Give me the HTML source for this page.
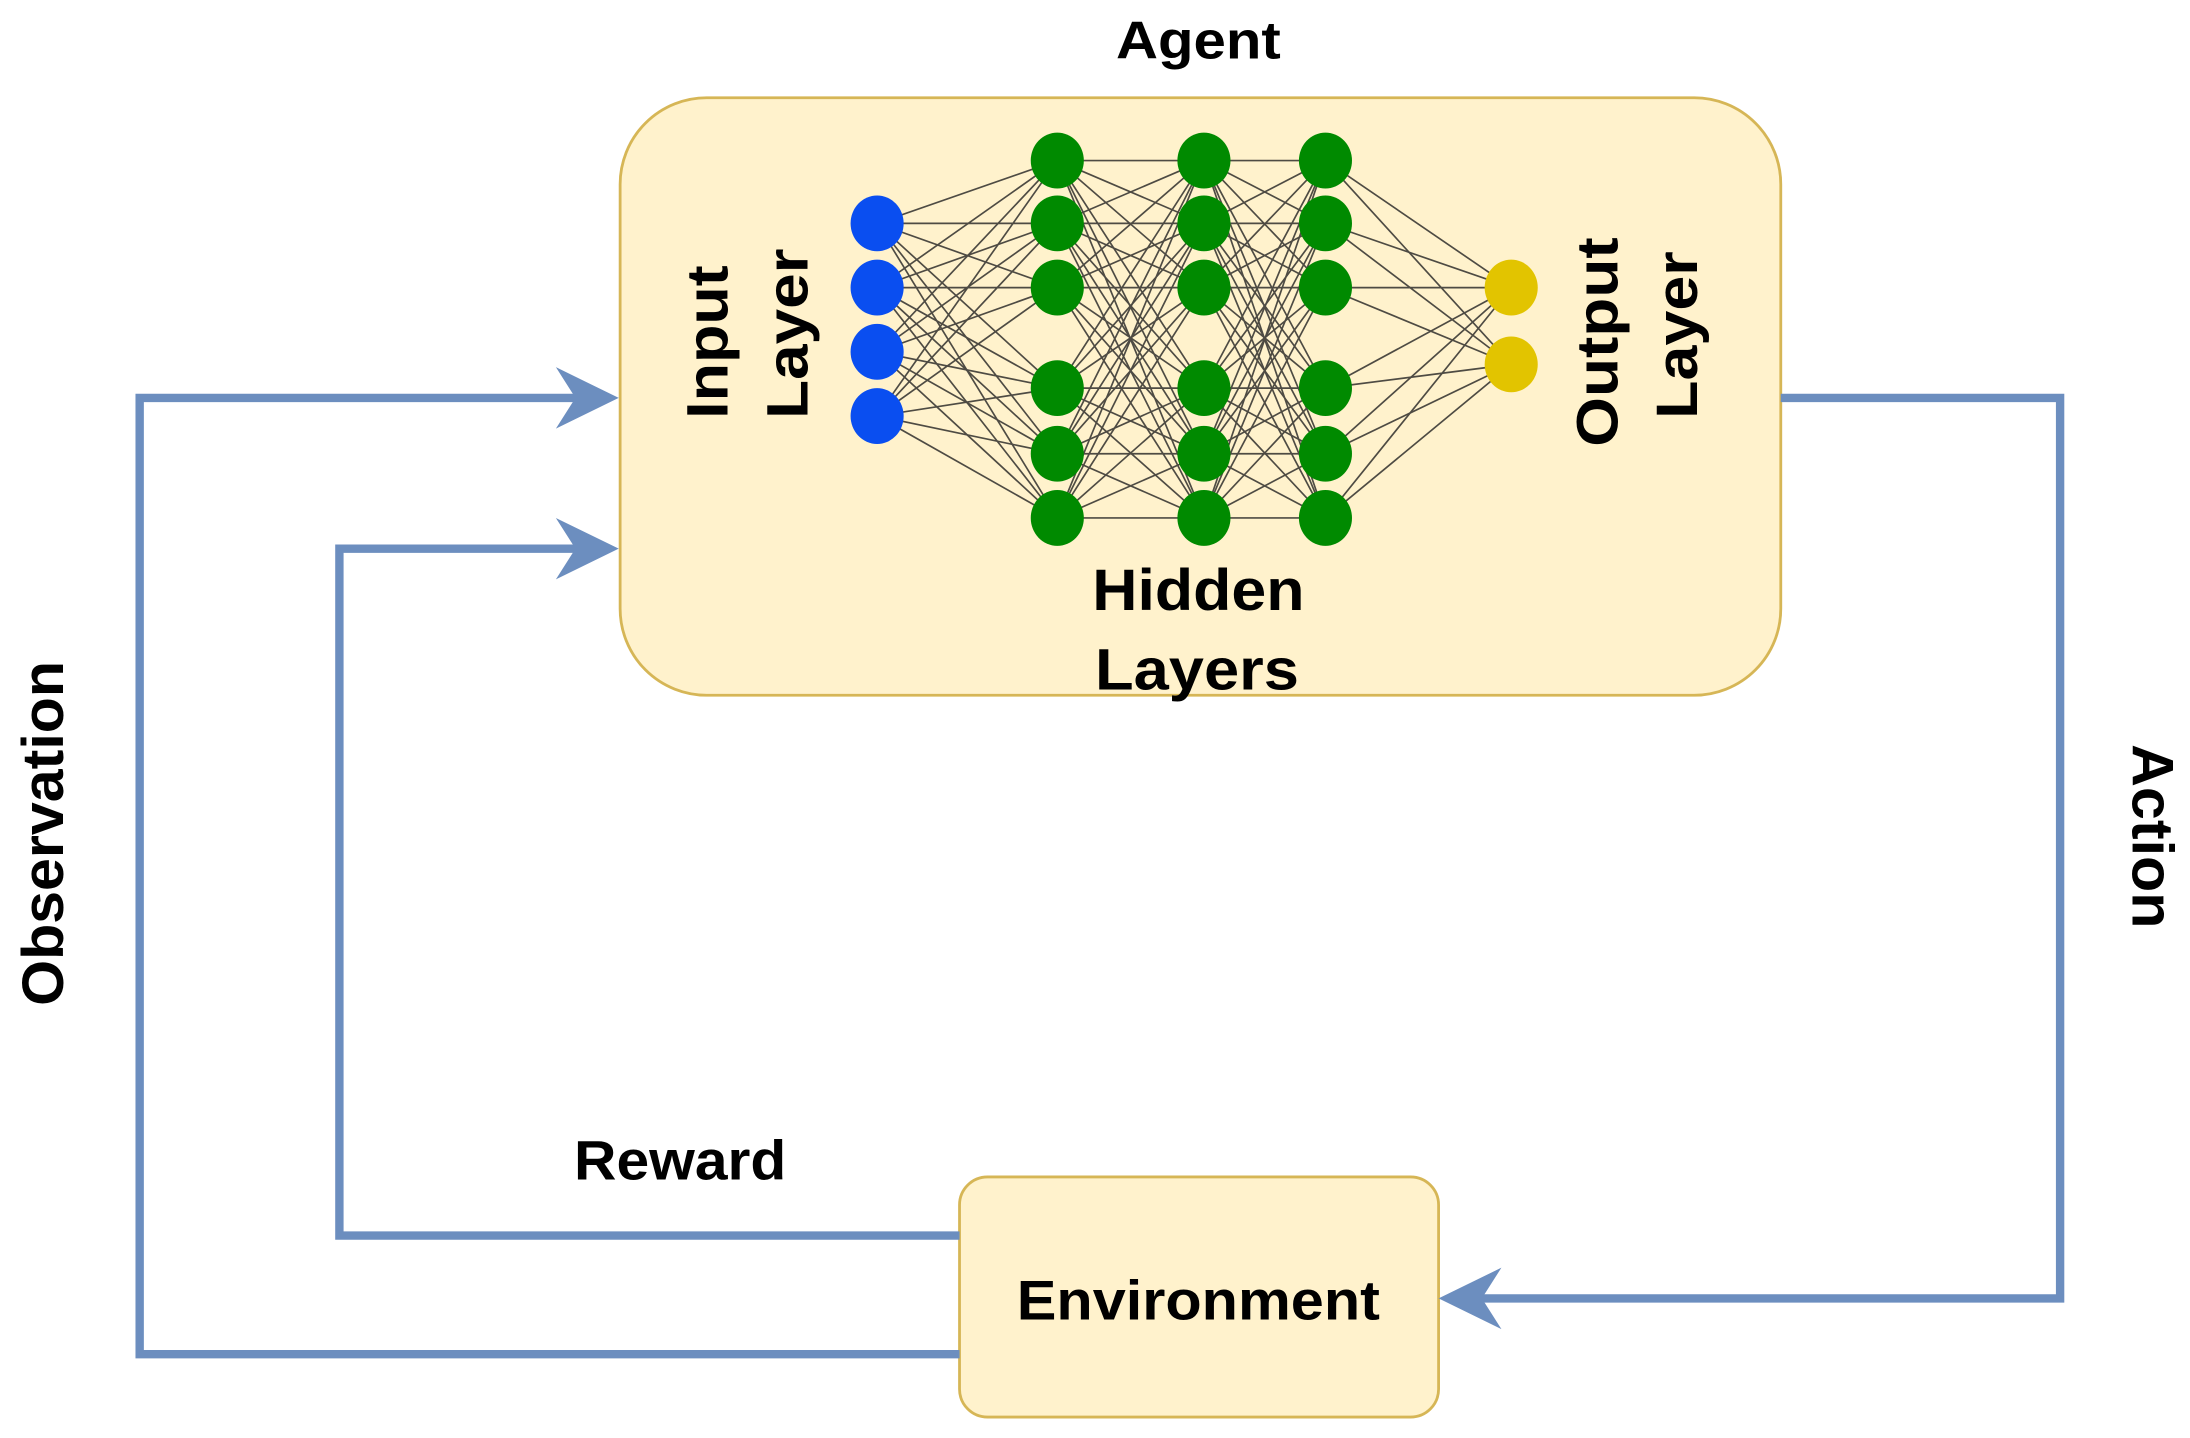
<!DOCTYPE html>
<html><head><meta charset="utf-8"><style>html,body{margin:0;padding:0;background:#fff}svg{display:block}</style></head>
<body>
<svg width="2190" height="1438" viewBox="0 0 1568 1030" preserveAspectRatio="none" xmlns="http://www.w3.org/2000/svg" font-family="Liberation Sans, sans-serif" font-weight="bold">
<rect x="0" y="0" width="1568" height="1030" fill="#fff"/>
<text x="858" y="42" text-anchor="middle" font-size="38" textLength="118" lengthAdjust="spacingAndGlyphs">Agent</text>
<rect x="444" y="70" width="831" height="428" rx="62" fill="#fff2cc" stroke="#d6b656" stroke-width="2"/>
<g fill="none" stroke="#222" stroke-width="1.2" opacity="0.8">
<path d="M628 160L757 115L628 160L757 160L628 160L757 206L628 160L757 278L628 160L757 325L628 160L757 371"/>
<path d="M628 206L757 115L628 206L757 160L628 206L757 206L628 206L757 278L628 206L757 325L628 206L757 371"/>
<path d="M628 252L757 115L628 252L757 160L628 252L757 206L628 252L757 278L628 252L757 325L628 252L757 371"/>
<path d="M628 298L757 115L628 298L757 160L628 298L757 206L628 298L757 278L628 298L757 325L628 298L757 371"/>
<path d="M757 115L862 115L757 115L862 160L757 115L862 206L757 115L862 278L757 115L862 325L757 115L862 371"/>
<path d="M757 160L862 115L757 160L862 160L757 160L862 206L757 160L862 278L757 160L862 325L757 160L862 371"/>
<path d="M757 206L862 115L757 206L862 160L757 206L862 206L757 206L862 278L757 206L862 325L757 206L862 371"/>
<path d="M757 278L862 115L757 278L862 160L757 278L862 206L757 278L862 278L757 278L862 325L757 278L862 371"/>
<path d="M757 325L862 115L757 325L862 160L757 325L862 206L757 325L862 278L757 325L862 325L757 325L862 371"/>
<path d="M757 371L862 115L757 371L862 160L757 371L862 206L757 371L862 278L757 371L862 325L757 371L862 371"/>
<path d="M862 115L949 115L862 115L949 160L862 115L949 206L862 115L949 278L862 115L949 325L862 115L949 371"/>
<path d="M862 160L949 115L862 160L949 160L862 160L949 206L862 160L949 278L862 160L949 325L862 160L949 371"/>
<path d="M862 206L949 115L862 206L949 160L862 206L949 206L862 206L949 278L862 206L949 325L862 206L949 371"/>
<path d="M862 278L949 115L862 278L949 160L862 278L949 206L862 278L949 278L862 278L949 325L862 278L949 371"/>
<path d="M862 325L949 115L862 325L949 160L862 325L949 206L862 325L949 278L862 325L949 325L862 325L949 371"/>
<path d="M862 371L949 115L862 371L949 160L862 371L949 206L862 371L949 278L862 371L949 325L862 371L949 371"/>
<path d="M1082 206L949 115L1082 206L949 160L1082 206L949 206L1082 206L949 278L1082 206L949 325L1082 206L949 371"/>
<path d="M1082 261L949 115L1082 261L949 160L1082 261L949 206L1082 261L949 278L1082 261L949 325L1082 261L949 371"/>
</g>
<g fill="#0a4ef0">
<ellipse cx="628" cy="160" rx="19" ry="20"/><ellipse cx="628" cy="206" rx="19" ry="20"/><ellipse cx="628" cy="252" rx="19" ry="20"/><ellipse cx="628" cy="298" rx="19" ry="20"/>
</g>
<g fill="#008a00">
<ellipse cx="757" cy="115" rx="19" ry="20"/><ellipse cx="757" cy="160" rx="19" ry="20"/><ellipse cx="757" cy="206" rx="19" ry="20"/><ellipse cx="757" cy="278" rx="19" ry="20"/><ellipse cx="757" cy="325" rx="19" ry="20"/><ellipse cx="757" cy="371" rx="19" ry="20"/>
<ellipse cx="862" cy="115" rx="19" ry="20"/><ellipse cx="862" cy="160" rx="19" ry="20"/><ellipse cx="862" cy="206" rx="19" ry="20"/><ellipse cx="862" cy="278" rx="19" ry="20"/><ellipse cx="862" cy="325" rx="19" ry="20"/><ellipse cx="862" cy="371" rx="19" ry="20"/>
<ellipse cx="949" cy="115" rx="19" ry="20"/><ellipse cx="949" cy="160" rx="19" ry="20"/><ellipse cx="949" cy="206" rx="19" ry="20"/><ellipse cx="949" cy="278" rx="19" ry="20"/><ellipse cx="949" cy="325" rx="19" ry="20"/><ellipse cx="949" cy="371" rx="19" ry="20"/>
</g>
<g fill="#e2c400">
<ellipse cx="1082" cy="206" rx="19" ry="20"/><ellipse cx="1082" cy="261" rx="19" ry="20"/>
</g>
<g fill="#000" font-size="42">
<text transform="translate(521,245) rotate(-90)" text-anchor="middle" textLength="110" lengthAdjust="spacingAndGlyphs">Input</text>
<text transform="translate(578,239) rotate(-90)" text-anchor="middle" textLength="122" lengthAdjust="spacingAndGlyphs">Layer</text>
<text transform="translate(1158,245) rotate(-90)" text-anchor="middle" textLength="150" lengthAdjust="spacingAndGlyphs">Output</text>
<text transform="translate(1215,240) rotate(-90)" text-anchor="middle" textLength="120" lengthAdjust="spacingAndGlyphs">Layer</text>
<text x="858" y="437" text-anchor="middle" textLength="152" lengthAdjust="spacingAndGlyphs">Hidden</text>
<text x="857" y="494" text-anchor="middle" textLength="146" lengthAdjust="spacingAndGlyphs">Layers</text>
<text transform="translate(45,597) rotate(-90)" text-anchor="middle" textLength="247" lengthAdjust="spacingAndGlyphs">Observation</text>
<text transform="translate(1527,599) rotate(90)" text-anchor="middle" textLength="132" lengthAdjust="spacingAndGlyphs">Action</text>
</g>
<text x="487" y="845" text-anchor="middle" font-size="40" textLength="152" lengthAdjust="spacingAndGlyphs">Reward</text>
<rect x="687" y="843" width="343" height="172" rx="20" fill="#fff2cc" stroke="#d6b656" stroke-width="2"/>
<text x="858" y="945" text-anchor="middle" font-size="40" textLength="260" lengthAdjust="spacingAndGlyphs">Environment</text>
<g fill="none" stroke="#6c8ebf" stroke-width="6">
<polyline points="687,970 100,970 100,285 420,285"/>
<polyline points="687,885 243,885 243,393 420,393"/>
<polyline points="1275,285 1475,285 1475,930 1055,930"/>
</g>
<g fill="#6c8ebf">
<polygon points="443,285 398,263 412,285 398,307"/>
<polygon points="443,393 398,371 412,393 398,415"/>
<polygon points="1030,930 1075,908 1061,930 1075,952"/>
</g>
</svg>
</body></html>
